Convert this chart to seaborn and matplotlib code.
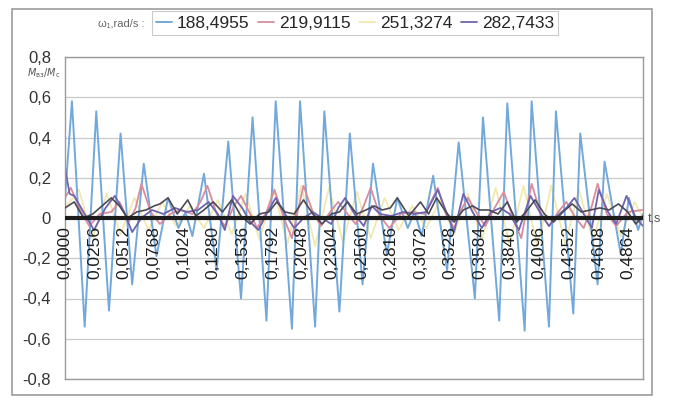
import matplotlib
matplotlib.use('Agg')
import matplotlib.pyplot as plt
import seaborn as sns
from matplotlib.patches import Rectangle

# --- данные (t, c ; M/Mc) ---
t_blue = [0.000, 0.006, 0.017, 0.027, 0.038, 0.048, 0.058, 0.068, 0.079, 0.089,
          0.098, 0.104, 0.110, 0.120, 0.131, 0.141, 0.152, 0.162, 0.174, 0.182,
          0.196, 0.203, 0.216, 0.224, 0.237, 0.246, 0.257, 0.266, 0.278, 0.287,
          0.296, 0.302, 0.308, 0.318, 0.330, 0.340, 0.354, 0.361, 0.375, 0.382,
          0.397, 0.403, 0.418, 0.424, 0.439, 0.445, 0.460, 0.466, 0.480, 0.487,
          0.495, 0.4992]
v_blue = [0.10, 0.58, -0.54, 0.53, -0.46, 0.42, -0.33, 0.27, -0.19, 0.10,
          -0.05, 0.03, -0.09, 0.22, -0.26, 0.38, -0.40, 0.50, -0.51, 0.58,
          -0.55, 0.58, -0.54, 0.53, -0.465, 0.42, -0.33, 0.27, -0.18, 0.10,
          -0.05, 0.03, -0.09, 0.21, -0.26, 0.375, -0.40, 0.50, -0.51, 0.57,
          -0.56, 0.58, -0.54, 0.53, -0.475, 0.42, -0.33, 0.28, -0.18, 0.10,
          -0.06, 0.02]

t_red = [0.000, 0.005, 0.014, 0.021, 0.030, 0.040, 0.047, 0.055, 0.061, 0.066,
         0.074, 0.082, 0.091, 0.100, 0.110, 0.117, 0.123, 0.131, 0.138, 0.146,
         0.152, 0.160, 0.166, 0.174, 0.181, 0.189, 0.196, 0.202, 0.206, 0.214,
         0.221, 0.229, 0.236, 0.244, 0.251, 0.258, 0.264, 0.272, 0.280, 0.290,
         0.300, 0.311, 0.316, 0.322, 0.329, 0.336, 0.343, 0.348, 0.356, 0.363,
         0.371, 0.379, 0.387, 0.394, 0.399, 0.403, 0.411, 0.418, 0.426, 0.433,
         0.441, 0.448, 0.455, 0.460, 0.468, 0.476, 0.486, 0.4992]
v_red = [0.10, 0.15, 0.03, -0.04, 0.02, 0.03, 0.08, -0.02, 0.05, 0.17,
         0.03, -0.03, 0.02, 0.04, 0.02, 0.08, 0.16, 0.02, -0.04, 0.06,
         0.11, 0.02, -0.05, 0.03, 0.14, 0.00, -0.10, 0.06, 0.16, 0.03,
         -0.04, 0.03, 0.08, 0.02, -0.03, 0.06, 0.15, 0.01, -0.05, 0.02,
         0.03, 0.02, 0.08, 0.15, 0.02, -0.05, 0.05, 0.10, 0.02, -0.04,
         0.05, 0.13, 0.00, -0.10, 0.05, 0.17, 0.02, -0.04, 0.03, 0.08,
         0.00, -0.05, 0.06, 0.17, 0.02, -0.04, 0.03, 0.04]

t_yel = [0.000, 0.012, 0.024, 0.036, 0.048, 0.060, 0.072, 0.084, 0.096, 0.108,
         0.120, 0.132, 0.144, 0.156, 0.168, 0.180, 0.192, 0.204, 0.216, 0.228,
         0.240, 0.252, 0.264, 0.276, 0.288, 0.300, 0.312, 0.324, 0.336, 0.348,
         0.360, 0.372, 0.384, 0.396, 0.408, 0.420, 0.432, 0.444, 0.456, 0.468,
         0.480, 0.492, 0.4992]
v_yel = [0.05, 0.14, -0.10, 0.12, -0.08, 0.10, -0.06, 0.08, -0.04, 0.06,
         -0.05, 0.09, -0.08, 0.12, -0.11, 0.15, -0.13, 0.16, -0.14, 0.15,
         -0.12, 0.13, -0.10, 0.10, -0.06, 0.06, -0.05, 0.09, -0.08, 0.12,
         -0.11, 0.15, -0.13, 0.16, -0.14, 0.16, -0.13, 0.14, -0.11, 0.12,
         -0.09, 0.08, 0.00]

t_pur = [0.000, 0.004, 0.008, 0.017, 0.025, 0.035, 0.043, 0.051, 0.058, 0.066,
         0.075, 0.085, 0.095, 0.105, 0.115, 0.124, 0.132, 0.138, 0.145, 0.153,
         0.160, 0.167, 0.175, 0.182, 0.190, 0.198, 0.206, 0.214, 0.222, 0.230,
         0.236, 0.242, 0.250, 0.258, 0.265, 0.272, 0.282, 0.292, 0.302, 0.312,
         0.322, 0.330, 0.336, 0.344, 0.352, 0.360, 0.368, 0.376, 0.384, 0.392,
         0.402, 0.410, 0.418, 0.425, 0.433, 0.440, 0.448, 0.455, 0.461, 0.469,
         0.476, 0.485, 0.493, 0.4992]
v_pur = [0.25, 0.12, 0.11, 0.02, -0.06, 0.05, 0.11, 0.03, -0.07, 0.00,
         0.04, 0.02, 0.05, 0.03, 0.04, 0.08, 0.02, -0.06, 0.11, 0.05,
         -0.02, -0.06, 0.03, 0.10, 0.02, -0.05, 0.00, 0.03, 0.00, -0.03,
         0.05, 0.10, 0.02, -0.04, 0.06, 0.02, 0.01, 0.03, 0.02, 0.03,
         0.14, 0.02, -0.07, 0.12, 0.03, -0.05, 0.03, 0.05, 0.02, -0.06,
         0.11, 0.03, -0.04, 0.01, 0.05, 0.10, 0.02, -0.05, 0.14, 0.03,
         -0.03, 0.11, 0.00, -0.04]

# тёмная линия без подписи в легенде
t_dark = [0.000, 0.008, 0.016, 0.024, 0.032, 0.040, 0.047, 0.054, 0.062, 0.070,
          0.077, 0.082, 0.089, 0.097, 0.106, 0.113, 0.120, 0.128, 0.136, 0.144,
          0.152, 0.160, 0.168, 0.176, 0.183, 0.190, 0.198, 0.206, 0.214, 0.222,
          0.230, 0.237, 0.244, 0.252, 0.260, 0.267, 0.274, 0.281, 0.287, 0.297,
          0.307, 0.314, 0.321, 0.329, 0.336, 0.344, 0.352, 0.358, 0.366, 0.374,
          0.382, 0.390, 0.398, 0.406, 0.414, 0.422, 0.430, 0.438, 0.446, 0.454,
          0.462, 0.470, 0.478, 0.486, 0.493, 0.4992]
v_dark = [0.05, 0.08, 0.00, 0.02, 0.06, 0.10, 0.06, 0.00, 0.03, 0.04,
          0.06, 0.07, 0.10, 0.02, 0.09, 0.01, 0.04, 0.08, 0.03, 0.09,
          0.01, -0.03, 0.02, 0.03, 0.08, 0.03, 0.02, 0.09, 0.02, -0.03,
          0.02, 0.03, 0.08, 0.02, 0.04, 0.06, 0.04, 0.05, 0.10, 0.01,
          0.08, 0.02, 0.10, 0.03, -0.02, 0.04, 0.06, 0.04, 0.04, 0.02,
          0.08, -0.02, 0.03, 0.09, 0.02, -0.02, 0.03, 0.07, 0.03, 0.04,
          0.05, 0.04, 0.07, 0.03, -0.03, 0.01]

omega_labels = ['188,4955', '219,9115', '251,3274', '282,7433']
xtick_t = [0.0000, 0.0256, 0.0512, 0.0768, 0.1024, 0.1280, 0.1536, 0.1792, 0.2048, 0.2304,
           0.2560, 0.2816, 0.3072, 0.3328, 0.3584, 0.3840, 0.4096, 0.4352, 0.4608, 0.4864]
ytick_v = [-0.8, -0.6, -0.4, -0.2, 0.0, 0.2, 0.4, 0.6, 0.8]

sns.set_style('white')
plt.rcParams['font.family'] = ['Liberation Sans', 'DejaVu Sans']

W, H = 674, 400
fig = plt.figure(figsize=(W / 100, H / 100), dpi=100)
ax = fig.add_axes([65 / W, 1 - 379 / H, (643 - 65) / W, (379 - 57) / H])

series = [
    (t_blue, v_blue, '#72a8dc', 1.4, 2.0),
    (t_red, v_red, '#d98c9d', 1.3, 2.2),
    (t_yel, v_yel, '#f1e9b0', 1.3, 1.5),
    (t_pur, v_pur, '#6f64b0', 1.3, 2.4),
    (t_dark, v_dark, '#4b4b55', 1.2, 2.6),
]
handles = []
for tt, vv, col, lw, z in series:
    sns.lineplot(x=tt, y=vv, ax=ax, color=col, lw=lw, estimator=None,
                 sort=False, legend=False, zorder=z)
    handles.append(ax.lines[-1])

ax.axhline(0, color='#1c1c1c', lw=3, zorder=5)

ax.set_xlim(0, 0.4992)
ax.set_ylim(-0.8, 0.8)
ax.set_xticks([])
ax.set_yticks(ytick_v)
ax.set_yticklabels(['0' if abs(v) < 1e-9 else f'{v:.1f}'.replace('.', ',') for v in ytick_v],
                   fontsize=12, color='#333333')
ax.tick_params(axis='y', length=0, pad=10)
ax.grid(axis='y', color='#c9c9c9', lw=0.9)
ax.set_axisbelow(True)
for s in ax.spines.values():
    s.set_color('#9a9a9a')
    s.set_linewidth(1.0)

# подписи категорий времени вдоль нулевой линии
for tt in xtick_t:
    ax.text(tt, -0.04, f'{tt:.4f}'.replace('.', ','), rotation=90, ha='center', va='top',
            fontsize=12.5, color='#1e1e1e', zorder=6)

leg = fig.legend(handles[:4], omega_labels, loc='center', bbox_to_anchor=(355 / W, 1 - 23 / H),
                 ncol=4, frameon=True, fancybox=False, edgecolor='#bdbdbd', fontsize=12.5,
                 handlelength=0.9, handletextpad=0.3, columnspacing=0.5, borderpad=0.25,
                 borderaxespad=0)
leg.get_frame().set_linewidth(0.8)

fig.text(145 / W, 1 - 23 / H, 'ω₁,rad/s :', ha='right', va='center', fontsize=8, color='#666666')
fig.text(27 / W, 1 - 73 / H, r'$M_{\mathrm{вз}}/M_{\mathrm{c}}$', ha='left', va='center',
         fontsize=7, color='#555555')
fig.text(648 / W, 1 - 219 / H, 't,s', ha='left', va='center', fontsize=9, color='#555555')

fig.add_artist(Rectangle((12 / W, 1 - 395 / H), 640 / W, 386 / H, transform=fig.transFigure,
                         fill=False, edgecolor='#9c9c9c', lw=1.2))

fig.savefig('out.png', dpi=100, facecolor='white')
